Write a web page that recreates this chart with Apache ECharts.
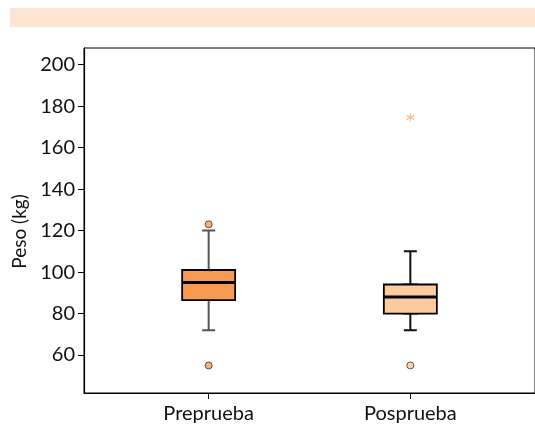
<!DOCTYPE html>
<html>
<head>
<meta charset="utf-8">
<script src="https://cdn.jsdelivr.net/npm/echarts@6/dist/echarts.min.js"></script>
<style>html,body{margin:0;padding:0;background:#fff}#c{width:535px;height:430px}</style>
</head>
<body>
<div id="c"></div>
<script>
const categories = ['Preprueba', 'Posprueba'];
const whiskerLow = [72, 72];
const q1 = [86.5, 80];
const median = [95, 88];
const q3 = [101, 94];
const whiskerHigh = [120, 110];
const outliers = [[0, 123], [0, 55], [1, 55]];
const extremes = [[1, 174.5]];
const yTicks = [60, 80, 100, 120, 140, 160, 180, 200];
const fills = ['#F79B52', '#FECB9F'];
const whiskerColors = ['#555555', '#111111'];

const FONT = 'Lato';
const pos = i => i + 1;

const starPath = 'path://M44,0L56,0L56,100L44,100Z M3.7,30.2L9.7,19.8L96.3,69.8L90.3,80.2Z M90.3,19.8L96.3,30.2L9.7,80.2L3.7,69.8Z';

const xBase = {
  type: 'value', min: 0.382, max: 2.618, gridIndex: 0
};

const chart = echarts.init(document.getElementById('c'), null, {renderer: 'canvas'});
chart.setOption({
  animation: false,
  graphic: [{
    type: 'rect', left: 10, top: 8,
    shape: {width: 530, height: 19},
    style: {fill: '#FDE5D4'}
  }],
  grid: {left: 84, right: -12, top: 48, bottom: 37, show: true, borderColor: '#000', borderWidth: 1},
  xAxis: [
    Object.assign({}, xBase, {
      axisLine: {show: true, lineStyle: {color: '#000', width: 1.2}},
      axisTick: {show: true, length: 6, lineStyle: {color: '#000'}, customValues: categories.map((c, i) => pos(i))},
      axisLabel: {
        show: true, margin: 11, color: '#111', fontFamily: FONT, fontSize: 20,
        customValues: categories.map((c, i) => pos(i)),
        formatter: v => categories[Math.round(v) - 1] || ''
      },
      splitLine: {show: false}
    }),
    Object.assign({}, xBase, {show: false}),
    Object.assign({}, xBase, {show: false})
  ],
  yAxis: {
    type: 'value', min: 41.7, max: 208,
    name: 'Peso (kg)', nameLocation: 'middle', nameGap: 50,
    nameTextStyle: {fontFamily: FONT, fontSize: 19, color: '#111', padding: [0, 22, 0, 0]},
    axisLine: {show: true, lineStyle: {color: '#000', width: 1.2}},
    axisTick: {show: true, length: 6, lineStyle: {color: '#000'}, customValues: yTicks},
    axisLabel: {show: true, margin: 9, color: '#111', fontFamily: FONT, fontSize: 20, customValues: yTicks},
    splitLine: {show: false}
  },
  series: [
    {
      type: 'boxplot', xAxisIndex: 1, boxWidth: [13, 13],
      itemStyle: {borderWidth: 2, color: 'transparent'},
      data: categories.map((c, i) => ({
        value: [pos(i), whiskerLow[i], q1[i], median[i], q3[i], whiskerHigh[i]],
        itemStyle: {borderColor: whiskerColors[i], color: 'transparent'}
      }))
    },
    {
      type: 'boxplot', xAxisIndex: 2, boxWidth: [53, 53],
      data: categories.map((c, i) => ({
        value: [pos(i), q1[i], q1[i], median[i], q3[i], q3[i]],
        itemStyle: {borderColor: '#000', borderWidth: 1.8, color: fills[i]}
      }))
    },
    {
      type: 'boxplot', xAxisIndex: 0, boxWidth: [53, 53],
      data: categories.map((c, i) => ({
        value: [pos(i), median[i], median[i], median[i], median[i], median[i]],
        itemStyle: {borderColor: '#000', borderWidth: 3, color: '#000'}
      }))
    },
    {
      type: 'scatter', xAxisIndex: 0, symbol: 'circle', symbolSize: 7,
      data: outliers.map(o => ({
        value: [pos(o[0]), o[1]],
        itemStyle: {color: fills[o[0]], borderColor: '#333', borderWidth: 1}
      }))
    },
    {
      type: 'scatter', xAxisIndex: 0, symbol: starPath, symbolSize: 8,
      itemStyle: {color: '#F4A261'},
      data: extremes.map(o => [pos(o[0]), o[1]])
    }
  ]
});
</script>
</body>
</html>
